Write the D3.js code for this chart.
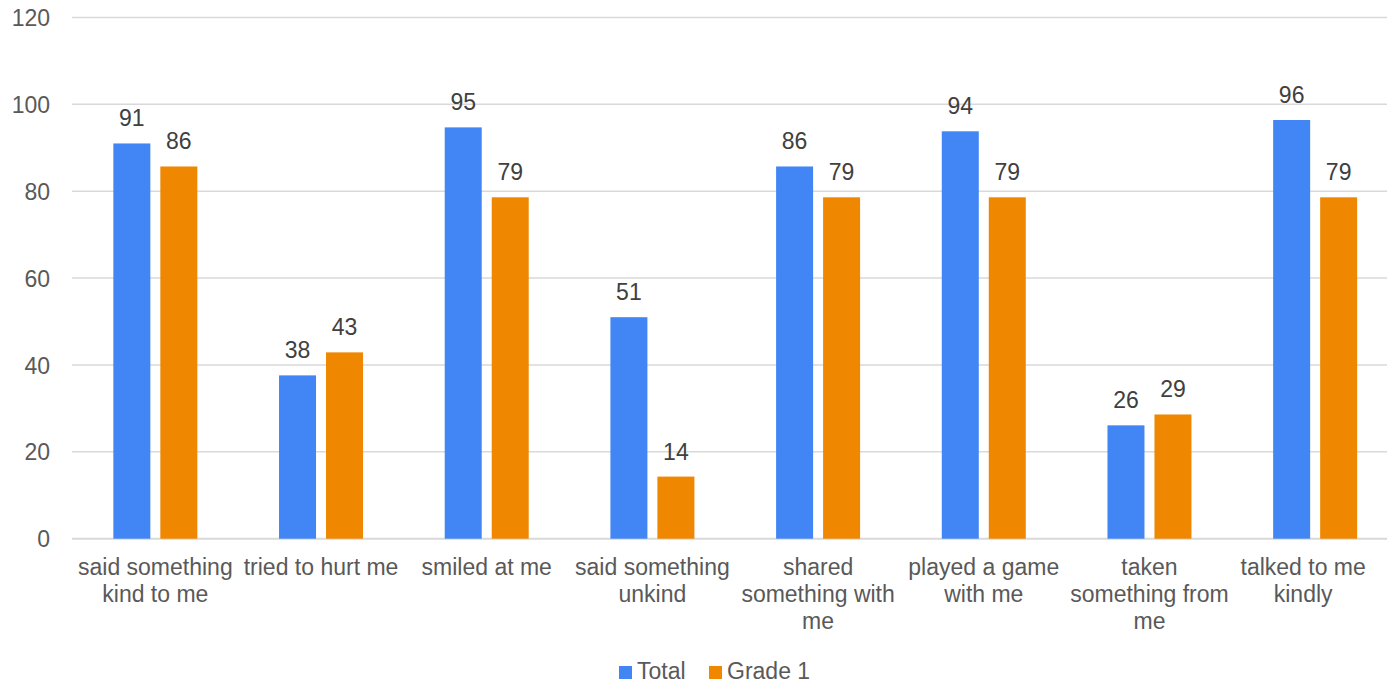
<!DOCTYPE html>
<html><head><meta charset="utf-8">
<script src="https://cdn.jsdelivr.net/npm/d3@7"></script>
<style>body{margin:0;background:#fff;}svg{display:block;font-family:"Liberation Sans",Arial,sans-serif;}</style>
</head><body><svg id="c" width="1387" height="684"></svg>
<script>
const categories = ["said something\nkind to me","tried to hurt me","smiled at me","said something\nunkind","shared\nsomething with\nme","played a game\nwith me","taken\nsomething from\nme","talked to me\nkindly"];
const seriesNames = ["Total","Grade 1"];
const totalValues = [91, 37.6, 94.7, 51, 85.7, 93.8, 26.1, 96.4];
const grade1Values = [85.7, 42.9, 78.6, 14.3, 78.6, 78.6, 28.6, 78.6];
const yTicks = [0,20,40,60,80,100,120];
const colors = ["#4285f4","#ef8700"];
const FS = 23;

const svg = d3.select("#c");
const x0 = d3.scaleBand().domain(categories).range([72.5, 1398]).paddingInner(0).paddingOuter(0);
const y = d3.scaleLinear().domain([0,120]).range([538.7, 17.5]);
const barW = 37, gap = 10;

// grid
svg.append("g").selectAll("line").data(yTicks).join("line")
  .attr("x1",72).attr("x2",1387)
  .attr("y1",d=>y(d)).attr("y2",d=>y(d))
  .attr("stroke","#d9d9d9").attr("stroke-width",d=>d===0?2:1.5);

// y axis labels
const yAxis = d3.axisLeft(y).tickValues(yTicks).tickSize(0).tickPadding(0);
const ya = svg.append("g").attr("transform","translate(50,0)").call(yAxis);
ya.select(".domain").remove();
ya.selectAll("text").attr("font-size",FS).attr("fill","#595959").attr("font-family","Liberation Sans, Arial, sans-serif").attr("dy","0.35em");

const series = [totalValues, grade1Values];
series.forEach((vals,si)=>{
  const g = svg.append("g");
  const bx = i => x0(categories[i]) + (x0.bandwidth()-(2*barW+gap))/2 + si*(barW+gap);
  g.selectAll("rect").data(vals).join("rect")
    .attr("x",(d,i)=>bx(i))
    .attr("width",barW)
    .attr("y",d=>y(d)).attr("height",d=>y(0)-y(d))
    .attr("fill",colors[si]);
  g.selectAll("text").data(vals).join("text")
    .attr("x",(d,i)=>bx(i) + barW/2)
    .attr("y",d=>y(d)-17)
    .attr("text-anchor","middle").attr("font-size",FS).attr("fill","#404040")
    .text(d=>Math.round(d));
});

// category labels
const cg = svg.append("g");
categories.forEach((c,i)=>{
  const lines = c.split("\n");
  const cx = x0(c) + x0.bandwidth()/2 - (i===7 ? 12 : 0);
  const t = cg.append("text").attr("text-anchor","middle").attr("font-size",FS).attr("fill","#595959");
  lines.forEach((l,j)=>{
    t.append("tspan").attr("x", cx).attr("y", 575 + j*27).text(l);
  });
});

// legend
const lg = svg.append("g");
const legendX = [619, 709];
seriesNames.forEach((n,i)=>{
  lg.append("rect").attr("x",legendX[i]).attr("y",666).attr("width",13).attr("height",13).attr("fill",colors[i]);
  lg.append("text").attr("x",legendX[i]+18).attr("y",679).attr("font-size",FS).attr("fill","#595959").text(n);
});
</script></body></html>
